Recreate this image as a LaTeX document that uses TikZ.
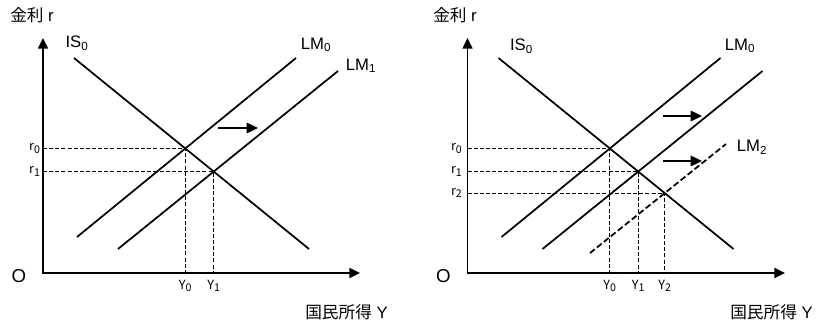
\documentclass[tikz,border=0pt]{standalone}
\usepackage{fontspec}
\setmainfont{Liberation Sans}
\newfontfamily\jpfont{Noto Sans CJK JP}
\usetikzlibrary{arrows.meta}
\newcommand\idxsub[1]{\raisebox{-0.2em}{\fontsize{8}{9}\selectfont #1}}

\begin{document}
\begin{tikzpicture}[x=0.75pt,y=0.75pt,
    axis/.style={line width=1.1pt,
                 {Triangle[length=8pt,width=7.5pt]}-{Triangle[length=8pt,width=7.5pt]}},
    curve/.style={line width=1.3pt},
    guide/.style={line width=0.6pt,dash pattern=on 3pt off 1.6pt},
    newcurve/.style={line width=1.3pt,dash pattern=on 4.5pt off 2.2pt},
    shiftarrow/.style={line width=0.9pt,-{Triangle[length=8.5pt,width=8pt]}},
    curvelbl/.style={font=\fontsize{12.5}{14}\selectfont,inner sep=0pt},
    idx/.style={font=\jpfont\fontsize{9.5}{11}\selectfont,inner sep=1pt},
    axlbl/.style={font=\fontsize{12.5}{14}\selectfont,inner sep=0pt},
    origin/.style={font=\fontsize{14}{16}\selectfont,inner sep=0pt}]
  \useasboundingbox (-43,-49) rectangle (773,273);

  % left panel: LM shifts once
  \coordinate (O) at (0,0);
  \coordinate (ytop) at (0,235);
  \coordinate (xend) at (317,0);
  \coordinate (isA) at (31,215);   \coordinate (isB) at (266,24);
  \coordinate (lm0A) at (34,36);   \coordinate (lm0B) at (253,215);
  \coordinate (lm1A) at (75,24);   \coordinate (lm1B) at (295,202);
  \draw[axis] (ytop) -- (O) -- (xend);
  \draw[curve] (isA) -- (isB);
  \draw[curve] (lm0A) -- (lm0B);
  \draw[curve] (lm1A) -- (lm1B);
  \coordinate (E0) at (intersection of isA--isB and lm0A--lm0B);
  \coordinate (E1) at (intersection of isA--isB and lm1A--lm1B);
  \draw[guide] (O |- E0) -- (E0) -- (E0 |- O);
  \draw[guide] (O |- E1) -- (E1) -- (E1 |- O);
  \node[idx,left=1pt] (r0) at (O |- E0) {r\idxsub{0}};
  \node[idx,left=1pt] (r1) at (O |- E1) {r\idxsub{1}};
  \node[idx,below=4pt] (y0) at (E0 |- O) {Y\idxsub{0}};
  \node[idx,below=4pt] (y1) at (E1 |- O) {Y\idxsub{1}};
  \coordinate (sA) at (175,145);   \coordinate (sB) at (215,145);
  \draw[shiftarrow] (sA) -- (sB);
  \node[curvelbl] (isL) at (34,230) {IS\textsubscript{0}};
  \node[curvelbl] (lm0L) at (273,228) {LM\textsubscript{0}};
  \node[curvelbl] (lm1L) at (318,207) {LM\textsubscript{1}};
  \node[origin] (orig) at (-24,-3) {O};
  \node[axlbl,anchor=west] (rlbl) at (-33,258) {{\jpfont 金利} r};
  \node[axlbl,anchor=east] (ylbl) at (345,-39) {{\jpfont 国民所得} Y};

  % right panel: LM shifts twice
  \begin{scope}[shift={(424.5,0)}]
    \coordinate (O2) at (0,0);
    \coordinate (ytop2) at (0,235);
    \coordinate (xend2) at (317.5,0);
    \coordinate (isA2) at (31,215);   \coordinate (isB2) at (266,24);
    \coordinate (lm0A2) at (34,36);   \coordinate (lm0B2) at (253,215);
    \coordinate (lm1A2) at (75,24);   \coordinate (lm1B2) at (295,202);
    \coordinate (lm2A2) at (122.5,20); \coordinate (lm2B2) at (258.5,129);
    \draw[axis] (ytop2) -- (O2) -- (xend2);
    \draw[curve] (isA2) -- (isB2);
    \draw[curve] (lm0A2) -- (lm0B2);
    \draw[curve] (lm1A2) -- (lm1B2);
    \draw[newcurve] (lm2A2) -- (lm2B2);
    \coordinate (F0) at (intersection of isA2--isB2 and lm0A2--lm0B2);
    \coordinate (F1) at (intersection of isA2--isB2 and lm1A2--lm1B2);
    \coordinate (F2) at (intersection of isA2--isB2 and lm2A2--lm2B2);
    \draw[guide] (O2 |- F0) -- (F0) -- (F0 |- O2);
    \draw[guide] (O2 |- F1) -- (F1) -- (F1 |- O2);
    \draw[guide] (O2 |- F2) -- (F2) -- (F2 |- O2);
    \node[idx,left=3pt] (rr0) at (O2 |- F0) {r\idxsub{0}};
    \node[idx,left=3pt] (rr1) at (O2 |- F1) {r\idxsub{1}};
    \node[idx,left=3pt] (rr2) at (O2 |- F2) {r\idxsub{2}};
    \node[idx,below=4pt] (yy0) at (F0 |- O2) {Y\idxsub{0}};
    \node[idx,below=4pt] (yy1) at (F1 |- O2) {Y\idxsub{1}};
    \node[idx,below=4pt] (yy2) at (F2 |- O2) {Y\idxsub{2}};
    \coordinate (tA) at (195.5,157);  \coordinate (tB) at (234.5,157);
    \coordinate (uA) at (195.5,112);  \coordinate (uB) at (234.5,112);
    \draw[shiftarrow] (tA) -- (tB);
    \draw[shiftarrow] (uA) -- (uB);
    \node[curvelbl] (isL2) at (54,227) {IS\textsubscript{0}};
    \node[curvelbl] (lm0L2) at (272.5,227) {LM\textsubscript{0}};
    \node[curvelbl] (lm2L2) at (284.5,126) {LM\textsubscript{2}};
    \node[origin] (orig2) at (-24,-3) {O};
    \node[axlbl,anchor=west] (rlbl2) at (-34.5,258) {{\jpfont 金利} r};
    \node[axlbl,anchor=east] (ylbl2) at (345.5,-39) {{\jpfont 国民所得} Y};
  \end{scope}
\end{tikzpicture}
\end{document}
